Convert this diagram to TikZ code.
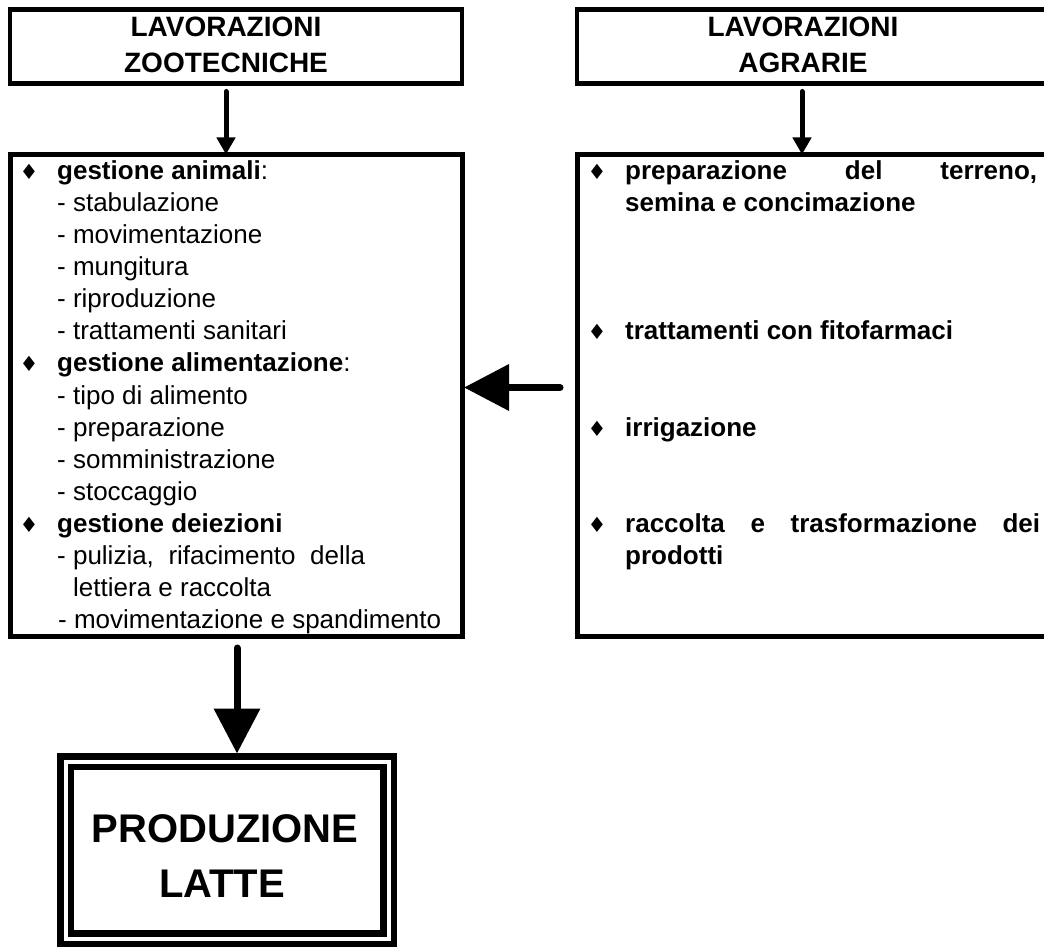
\documentclass[tikz,border=0pt]{standalone}
\usepackage{fontspec}
\setmainfont{Liberation Sans}
\newfontfamily\dvfont{DejaVu Sans}
\usetikzlibrary{arrows.meta}
\begin{document}
\begin{tikzpicture}[x=1pt,y=-1pt,
  boxA/.style={draw,line width=4.5pt,inner sep=0pt,outer sep=0pt},
  boxB/.style={draw,line width=5pt,inner sep=0pt,outer sep=0pt},
  titletext/.style={font=\fontsize{28}{36}\selectfont\bfseries,inner sep=0pt,anchor=base},
  bigtext/.style={font=\fontsize{40}{50}\selectfont\bfseries,inner sep=0pt,anchor=base},
  itemtext/.style={font=\fontsize{26}{32}\selectfont,inner sep=0pt,anchor=base west},
  bul/.style={font=\fontsize{21}{21}\selectfont\dvfont,inner sep=0pt,anchor=base},
  arrS/.style={line width=5pt,line cap=round,-{Triangle[length=17pt,width=18pt]}},
  arrB/.style={line width=7pt,line cap=round,-{Triangle[length=45pt,width=45pt]}}]
\useasboundingbox (0,0) rectangle (1044,949);

% boxes
\node[boxA,minimum width=452pt,minimum height=74pt] (tl) at (236,46.5) {};
\node[boxA,minimum width=483pt,minimum height=74pt] (tr) at (818.5,46.5) {};
\node[boxB,minimum width=452pt,minimum height=482pt] (lb) at (236,395.5) {};
\node[boxB,minimum width=483pt,minimum height=482pt] (rb) at (818.5,395.5) {};
\node[draw,line width=6.5pt,double=white,double distance=4pt,inner sep=0pt,outer sep=0pt,
      minimum width=323pt,minimum height=177pt] (pb) at (227,850) {};

% titles
\node[titletext] (tla) at (226,37) {LAVORAZIONI};
\node[titletext] (tlb) at (226,73) {ZOOTECNICHE};
\node[titletext] (tra) at (803,37) {LAVORAZIONI};
\node[titletext] (trb) at (803,73) {AGRARIE};
\node[bigtext] (pba) at (225,842) {PRODUZIONE};
\node[bigtext] (pbb) at (222,897) {LATTE};

% arrows
\draw[arrS] ([xshift=-10pt,yshift=-8pt]tl.south) -- ([xshift=-10pt]lb.north);
\draw[arrS] ([xshift=-16.5pt,yshift=-8pt]tr.south) -- ([xshift=-16.5pt]rb.north);
\draw[arrB] ([xshift=-17pt,yshift=8pt]rb.west) -- ([xshift=2pt,yshift=8pt]lb.east);
\draw[arrB] ([xshift=1pt,yshift=-11.5pt]lb.south) -- ([xshift=10pt,yshift=8pt]pb.north);

% left box items
\node[bul] (lb1) at (29,180) {♦};
\node[itemtext] (l1) at (57,180) {\textbf{gestione animali}:};
\node[itemtext] (l2) at (57,212) {- stabulazione};
\node[itemtext] (l3) at (57,244) {- movimentazione};
\node[itemtext] (l4) at (57,276) {- mungitura};
\node[itemtext] (l5) at (57,308) {- riproduzione};
\node[itemtext] (l6) at (57,340) {- trattamenti sanitari};
\node[bul] (lb2) at (29,372) {♦};
\node[itemtext] (l7) at (57,372) {\textbf{gestione alimentazione}:};
\node[itemtext] (l8) at (57,404) {- tipo di alimento};
\node[itemtext] (l9) at (57,436) {- preparazione};
\node[itemtext] (l10) at (57,468) {- somministrazione};
\node[itemtext] (l11) at (57,500) {- stoccaggio};
\node[bul] (lb3) at (29,532) {♦};
\node[itemtext] (l12) at (57,532) {\textbf{gestione deiezioni}};
\node[itemtext] (l13) at (57,564) {\makebox[308pt][s]{\mbox{- pulizia,} rifacimento della}};
\node[itemtext] (l14) at (73,596) {lettiera e raccolta};
\node[itemtext] (l15) at (58,628) {- movimentazione e spandimento};

% right box items
\node[bul] (rb1) at (597,180) {♦};
\node[itemtext] (r1) at (625,180) {\bfseries\makebox[412pt][s]{preparazione del terreno,}};
\node[itemtext] (r2) at (625,212) {\textbf{semina e concimazione}};
\node[bul] (rb2) at (597,340) {♦};
\node[itemtext] (r3) at (625,340) {\textbf{trattamenti con fitofarmaci}};
\node[bul] (rb3) at (597,436) {♦};
\node[itemtext] (r4) at (625,436) {\textbf{irrigazione}};
\node[bul] (rb4) at (597,532) {♦};
\node[itemtext] (r5) at (625,532) {\bfseries\makebox[415pt][s]{raccolta e trasformazione dei}};
\node[itemtext] (r6) at (625,564) {\textbf{prodotti}};
\end{tikzpicture}
\end{document}
